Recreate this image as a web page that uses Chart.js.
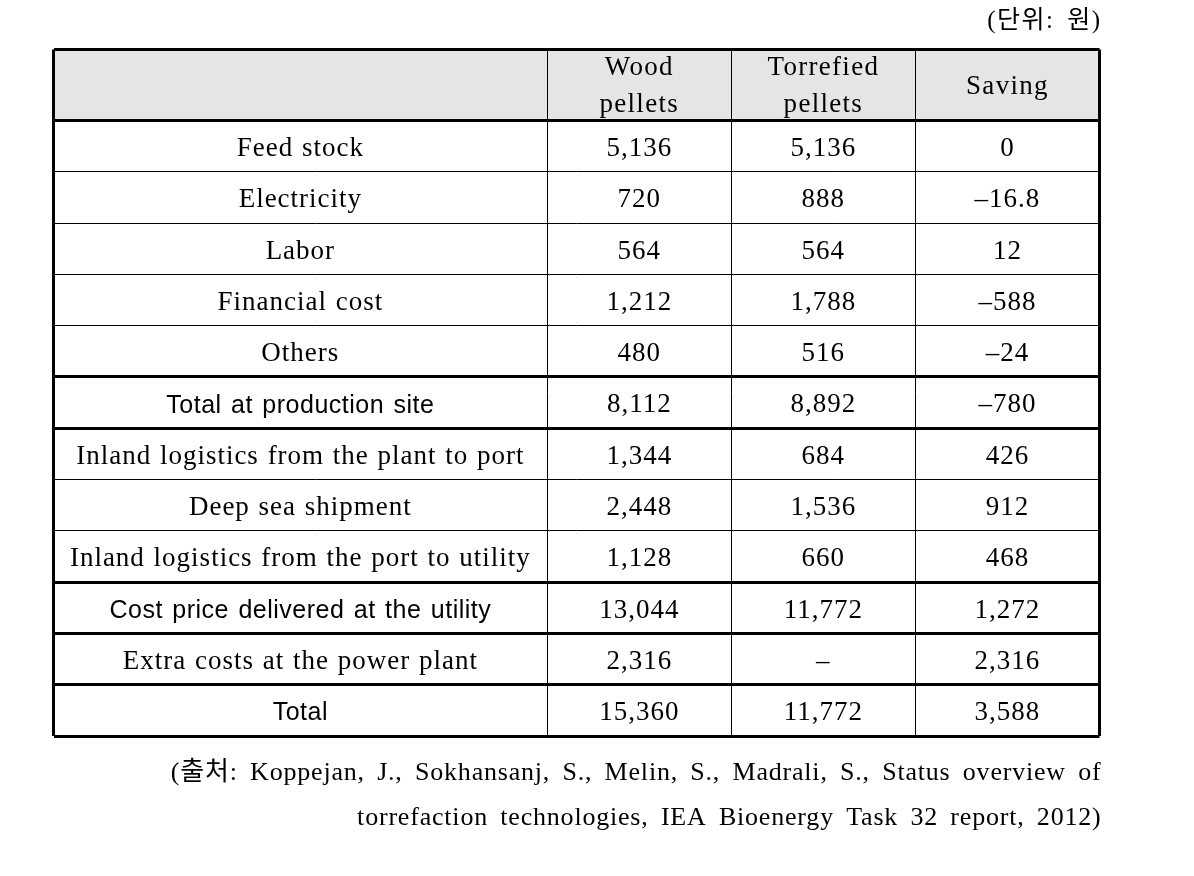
<!DOCTYPE html>
<html>
<head>
<meta charset="utf-8">
<script src="https://cdn.jsdelivr.net/npm/chart.js@4.4.1/dist/chart.umd.min.js"></script>
<style>
  html, body { margin: 0; padding: 0; background: #fff; }
  canvas { display: block; }
</style>
</head>
<body>
<canvas id="costTable" width="1194" height="876"></canvas>
<script>
// Table contents
const items = [
    'Feed stock', 'Electricity', 'Labor', 'Financial cost', 'Others',
    'Total at production site',
    'Inland logistics from the plant to port', 'Deep sea shipment',
    'Inland logistics from the port to utility',
    'Cost price delivered at the utility',
    'Extra costs at the power plant', 'Total'
];
const woodPellets = [5136, 720, 564, 1212, 480, 8112, 1344, 2448, 1128, 13044, 2316, 15360];
const torrefiedPellets = [5136, 888, 564, 1788, 516, 8892, 684, 1536, 660, 11772, null, 11772];
const saving = [0, -16.8, 12, -588, -24, -780, 426, 912, 468, 1272, 2316, 3588];
const columnHeaders = [[], ['Wood', 'pellets'], ['Torrefied', 'pellets'], ['Saving']];
const subtotalRows = [5, 9, 11];
const unitLabel = '(단위: 원)';
const sourceLines = [
    '(출처: Koppejan, J., Sokhansanj, S., Melin, S., Madrali, S., Status overview of',
    'torrefaction technologies, IEA Bioenergy Task 32 report, 2012)'
];

// Layout in table units (1 unit = width of a number column / height of a row)
const colWidths = [2.682, 1, 1, 1];
const headerHeight = 1.384;
const colEdges = colWidths.reduce(function (acc, w) { acc.push(acc[acc.length - 1] + w); return acc; }, [0]);
const colCenters = colWidths.map(function (w, i) { return colEdges[i] + w / 2; });
const rowEdges = [-headerHeight].concat(items.map(function (_, i) { return i; }), [items.length]);
const thickRowEdges = [-headerHeight, 0, items.length]
    .concat(subtotalRows, subtotalRows.map(function (r) { return r + 1; }));

const SERIF = '"Liberation Serif", "Noto Sans CJK KR", serif';
const SANS = '"Liberation Sans", Arial, sans-serif';
const columns = [items, woodPellets, torrefiedPellets, saving];

function fmt(v) {
    if (v === null) return '\u2013';
    const s = Math.abs(v).toLocaleString('en-US');
    return v < 0 ? '\u2013' + s : s;
}

function spacing(ctx, letter, word) {
    if ('letterSpacing' in ctx) ctx.letterSpacing = letter + 'px';
    if ('wordSpacing' in ctx) ctx.wordSpacing = word + 'px';
}

const tablePlugin = {
    id: 'tableCells',
    beforeDraw(chart) {
        const ctx = chart.ctx;
        const x = chart.scales.x, y = chart.scales.y;
        const top = y.getPixelForValue(-headerHeight), bottom = y.getPixelForValue(0);
        ctx.save();
        ctx.fillStyle = '#e5e5e5';
        ctx.fillRect(x.getPixelForValue(0), top, x.getPixelForValue(colEdges[4]) - x.getPixelForValue(0), bottom - top);
        ctx.restore();
    },
    afterDatasetsDraw(chart) {
        const ctx = chart.ctx;
        const x = chart.scales.x, y = chart.scales.y;
        ctx.save();
        ctx.fillStyle = '#000';
        ctx.textAlign = 'center';
        ctx.textBaseline = 'alphabetic';

        // header
        ctx.font = '27px ' + SERIF;
        spacing(ctx, 1.3, 0);
        const hy = y.getPixelForValue(-headerHeight / 2);
        columnHeaders.forEach(function (lines, c) {
            const hx = x.getPixelForValue(colCenters[c]);
            lines.forEach(function (line, k) {
                const off = (k - (lines.length - 1) / 2) * 37;
                ctx.fillText(line, hx, hy + off + 9);
            });
        });

        // body cells, at the positions of the dataset points
        chart.data.datasets.forEach(function (ds, c) {
            const meta = chart.getDatasetMeta(c);
            meta.data.forEach(function (pt, r) {
                let text;
                if (c === 0) {
                    text = columns[0][r];
                    if (subtotalRows.includes(r)) {
                        ctx.font = '25px ' + SANS;
                        spacing(ctx, 0.5, 2);
                        ctx.fillText(text, pt.x, pt.y + 10);
                        return;
                    }
                } else {
                    text = fmt(columns[c][r]);
                }
                ctx.font = '27px ' + SERIF;
                spacing(ctx, 1, 1);
                ctx.fillText(text, pt.x, pt.y + 9.8);
            });
        });
        ctx.restore();
    },
    afterDraw(chart) {
        const ctx = chart.ctx;
        const area = chart.chartArea;
        ctx.save();
        ctx.fillStyle = '#000';
        ctx.textAlign = 'right';
        ctx.textBaseline = 'alphabetic';
        ctx.font = '25px ' + SERIF;
        spacing(ctx, 1.5, 5);
        ctx.fillText(unitLabel, area.right + 2, area.top - 22);

        ctx.font = '26px ' + SERIF;
        spacing(ctx, 0.8, 5);
        sourceLines.forEach(function (line, k) {
            ctx.fillText(line, area.right + 2, area.bottom + 44 + k * 45);
        });
        ctx.restore();
    }
};

function gridWidth(thick) {
    return function (context) {
        return thick.includes(context.tick.value) ? 3 : 1;
    };
}

new Chart(document.getElementById('costTable'), {
    type: 'scatter',
    data: {
        datasets: columns.map(function (col, c) {
            return {
                data: col.map(function (_, r) { return { x: colCenters[c], y: r + 0.5 }; }),
                pointRadius: 0
            };
        })
    },
    options: {
        responsive: false,
        animation: false,
        events: [],
        layout: { padding: { left: 53.5, top: 49.5, right: 94.5, bottom: 140 } },
        plugins: { legend: { display: false }, tooltip: { enabled: false } },
        scales: {
            x: {
                type: 'linear',
                min: 0,
                max: colEdges[colEdges.length - 1],
                afterBuildTicks: function (s) { s.ticks = colEdges.map(function (v) { return { value: v }; }); },
                ticks: { display: false },
                border: { display: false },
                grid: { color: '#000', drawTicks: false, lineWidth: gridWidth([0, colEdges[colEdges.length - 1]]) }
            },
            y: {
                type: 'linear',
                reverse: true,
                min: -headerHeight,
                max: items.length,
                afterBuildTicks: function (s) { s.ticks = rowEdges.map(function (v) { return { value: v }; }); },
                ticks: { display: false },
                border: { display: false },
                grid: { color: '#000', drawTicks: false, lineWidth: gridWidth(thickRowEdges) }
            }
        }
    },
    plugins: [tablePlugin]
});
</script>
</body>
</html>
